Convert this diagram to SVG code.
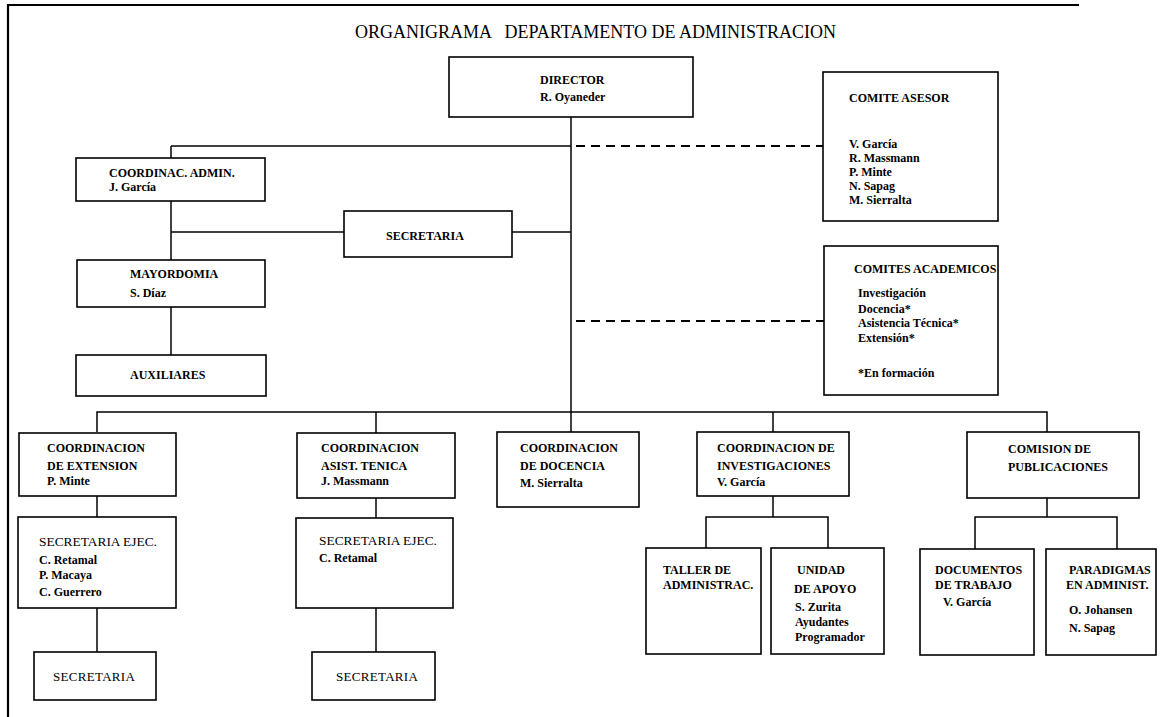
<svg xmlns="http://www.w3.org/2000/svg" width="1163" height="717" viewBox="0 0 1163 717">
<style>
.box{fill:#fff;stroke:#000;stroke-width:1.6}
.ln{fill:none;stroke:#000;stroke-width:1.5}
.dash{fill:none;stroke:#000;stroke-width:2;stroke-dasharray:9,6}
text{font-family:"Liberation Serif","Times New Roman",serif;font-size:12px;fill:#000}
.b{font-weight:bold}
.r{font-size:13.4px}
.t{font-size:18px;white-space:pre}
.sp{font-size:13px;letter-spacing:0.3px}
</style>
<rect width="1163" height="717" fill="#fff"/>
<g id="frame">
<path d="M8,717 V5 H1079" fill="none" stroke="#000" stroke-width="2.2"/>
</g>
<text class="t" x="355" y="38" xml:space="preserve">ORGANIGRAMA   DEPARTAMENTO DE ADMINISTRACION</text>
<g id="connectors">
<path class="ln" d="M571,117 V432"/>
<path class="ln" d="M171,146 H571"/>
<path class="dash" d="M576,146 H823"/>
<path class="dash" d="M576,321 H824"/>
<path class="ln" d="M171,146 V260"/>
<path class="ln" d="M171,232 H344"/>
<path class="ln" d="M512,232 H571"/>
<path class="ln" d="M171,307 V355"/>
<path class="ln" d="M97,432 V412 H1047 V432"/>
<path class="ln" d="M376,412 V433"/>
<path class="ln" d="M773,412 V432"/>
<path class="ln" d="M97,496 V517"/>
<path class="ln" d="M97,608 V652"/>
<path class="ln" d="M376,498 V518"/>
<path class="ln" d="M376,608 V652"/>
<path class="ln" d="M773,496 V517"/>
<path class="ln" d="M706,548 V517 H828 V548"/>
<path class="ln" d="M1047,498 V517"/>
<path class="ln" d="M975,549 V517 H1117 V549"/>
</g>
<g id="director">
<rect class="box" x="449" y="57" width="244" height="60"/>
<text class="b" x="540" y="84">DIRECTOR</text>
<text class="b" x="540" y="101">R. Oyaneder</text>
</g>
<g id="comite-asesor">
<rect class="box" x="823" y="72" width="175" height="149"/>
<text class="b" x="849" y="102">COMITE ASESOR</text>
<text class="b" x="849" y="148">V. García</text>
<text class="b" x="849" y="162">R. Massmann</text>
<text class="b" x="849" y="176">P. Minte</text>
<text class="b" x="849" y="190">N. Sapag</text>
<text class="b" x="849" y="204">M. Sierralta</text>
</g>
<g id="coord-admin">
<rect class="box" x="76" y="158" width="189" height="43"/>
<text class="b" x="109" y="177">COORDINAC. ADMIN.</text>
<text class="b" x="109" y="191">J. García</text>
</g>
<g id="secretaria">
<rect class="box" x="344" y="211" width="168" height="46"/>
<text class="b" x="386" y="240">SECRETARIA</text>
</g>
<g id="mayordomia">
<rect class="box" x="77" y="260" width="188" height="47"/>
<text class="b" x="130" y="278">MAYORDOMIA</text>
<text class="b" x="130" y="297">S. Díaz</text>
</g>
<g id="auxiliares">
<rect class="box" x="76" y="355" width="190" height="41"/>
<text class="b" x="130" y="379">AUXILIARES</text>
</g>
<g id="comites-academicos">
<rect class="box" x="824" y="246" width="174" height="149"/>
<text class="b" x="854" y="273">COMITES ACADEMICOS</text>
<text class="b" x="858" y="297">Investigación</text>
<text class="b" x="858" y="313">Docencia*</text>
<text class="b" x="858" y="327">Asistencia Técnica*</text>
<text class="b" x="858" y="342">Extensión*</text>
<text class="b" x="858" y="377">*En formación</text>
</g>
<g id="coord-extension">
<rect class="box" x="19" y="433" width="157" height="63"/>
<text class="b" x="47" y="452">COORDINACION</text>
<text class="b" x="47" y="470">DE EXTENSION</text>
<text class="b" x="47" y="485">P. Minte</text>
</g>
<g id="sec-ejec-1">
<rect class="box" x="18" y="517" width="158" height="91"/>
<text class="r" x="39" y="546">SECRETARIA EJEC.</text>
<text class="b" x="39" y="564">C. Retamal</text>
<text class="b" x="39" y="579">P. Macaya</text>
<text class="b" x="39" y="596">C. Guerrero</text>
</g>
<g id="secretaria-1">
<rect class="box" x="34" y="652" width="122" height="48"/>
<text class="sp" x="53" y="681">SECRETARIA</text>
</g>
<g id="coord-asist">
<rect class="box" x="297" y="433" width="158" height="65"/>
<text class="b" x="321" y="452">COORDINACION</text>
<text class="b" x="321" y="470">ASIST. TENICA</text>
<text class="b" x="321" y="485">J. Massmann</text>
</g>
<g id="sec-ejec-2">
<rect class="box" x="296" y="518" width="157" height="90"/>
<text class="r" x="319" y="545">SECRETARIA EJEC.</text>
<text class="b" x="319" y="562">C. Retamal</text>
</g>
<g id="secretaria-2">
<rect class="box" x="312" y="652" width="123" height="48"/>
<text class="sp" x="336" y="681">SECRETARIA</text>
</g>
<g id="coord-docencia">
<rect class="box" x="497" y="432" width="142" height="75"/>
<text class="b" x="520" y="452">COORDINACION</text>
<text class="b" x="520" y="470">DE DOCENCIA</text>
<text class="b" x="520" y="487">M. Sierralta</text>
</g>
<g id="coord-investigaciones">
<rect class="box" x="697" y="432" width="152" height="64"/>
<text class="b" x="717" y="452">COORDINACION DE</text>
<text class="b" x="717" y="470">INVESTIGACIONES</text>
<text class="b" x="717" y="486">V. García</text>
</g>
<g id="taller">
<rect class="box" x="646" y="548" width="115" height="106"/>
<text class="b" x="663" y="574">TALLER DE</text>
<text class="b" x="663" y="589">ADMINISTRAC.</text>
</g>
<g id="unidad-apoyo">
<rect class="box" x="771" y="548" width="113" height="106"/>
<text class="b" x="797" y="574">UNIDAD</text>
<text class="b" x="794" y="593">DE APOYO</text>
<text class="b" x="795" y="611">S. Zurita</text>
<text class="b" x="795" y="626">Ayudantes</text>
<text class="b" x="795" y="641">Programador</text>
</g>
<g id="comision-publicaciones">
<rect class="box" x="967" y="432" width="172" height="66"/>
<text class="b" x="1008" y="453">COMISION DE</text>
<text class="b" x="1008" y="471">PUBLICACIONES</text>
</g>
<g id="documentos">
<rect class="box" x="920" y="549" width="114" height="106"/>
<text class="b" x="935" y="574">DOCUMENTOS</text>
<text class="b" x="935" y="589">DE TRABAJO</text>
<text class="b" x="943" y="606">V. García</text>
</g>
<g id="paradigmas">
<rect class="box" x="1046" y="549" width="110" height="106"/>
<text class="b" x="1069" y="574">PARADIGMAS</text>
<text class="b" x="1066" y="589">EN ADMINIST.</text>
<text class="b" x="1069" y="614">O. Johansen</text>
<text class="b" x="1069" y="632">N. Sapag</text>
</g>
</svg>
